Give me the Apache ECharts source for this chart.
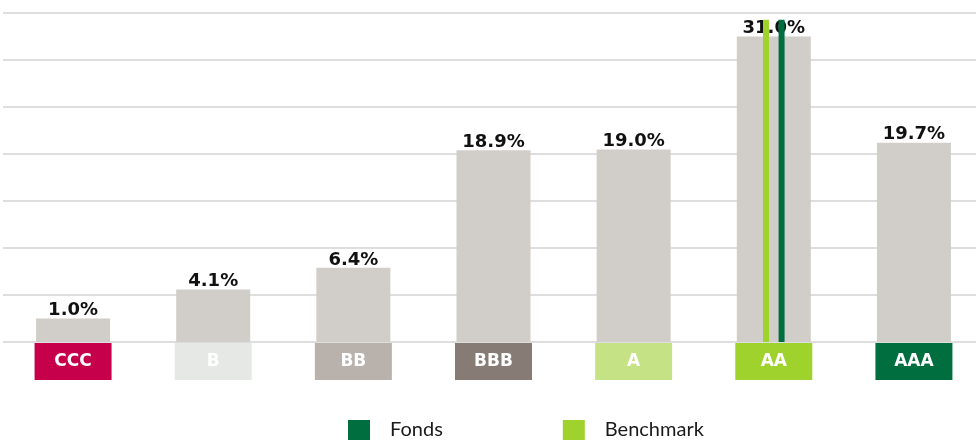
<!DOCTYPE html>
<html>
<head>
<meta charset="utf-8">
<script src="https://cdn.jsdelivr.net/npm/echarts@6/dist/echarts.min.js"></script>
<style>
html,body{margin:0;padding:0;background:#fff;overflow:hidden;width:976px;height:441px;}
#chart{width:984px;height:441px;}
</style>
</head>
<body>
<div id="chart"></div>
<script>
// ---- data ----
const categories = ['CCC', 'B', 'BB', 'BBB', 'A', 'AA', 'AAA'];
const shares = [1.0, 4.1, 6.4, 18.9, 19.0, 31.0, 19.7];
const fonds = [null, null, null, null, null, 32.8, null];
const benchmark = [null, null, null, null, null, 32.8, null];
const axisBottom = -1.4894;   // value at the bottom gridline
const axisTop = 33.5106;      // value at the top gridline
const tickStep = 5;

// ---- styles ----
const catColors = ['#C6004B', '#E6E8E5', '#B8B1AC', '#867C75', '#C5E384', '#A0D22E', '#006E3F'];
const LABEL_FONT = 'DejaVu Sans';
const LEGEND_FONT = 'Lato';
const BAR_GREY = '#D1CEC9';
const base = -axisBottom;
const baseArr = categories.map(() => base);
const baseArrSparse = (arr) => arr.map(v => (v == null ? null : base));

const rich = {};
catColors.forEach((c, i) => {
  rich['c' + i] = {
    width: 77, height: 37, lineHeight: 37, align: 'center',
    backgroundColor: c, color: '#fff', fontWeight: 'bold',
    fontSize: 17, fontFamily: LABEL_FONT
  };
});

const chart = echarts.init(document.getElementById('chart'), null, {renderer: 'canvas'});
chart.setOption({
  animation: false,
  grid: {left: 3, top: 13, right: 0, height: 329, containLabel: false},
  legend: {
    data: ['Fonds', 'Benchmark'],
    left: 348, top: 420, padding: 0,
    icon: 'rect', itemWidth: 22, itemHeight: 20, itemGap: 120,
    textStyle: {fontSize: 20, color: '#1a1a1a', fontFamily: LEGEND_FONT, padding: [0, 0, 0, 15]}
  },
  xAxis: [
    {
      type: 'category', data: categories,
      axisLine: {show: false}, axisTick: {show: false},
      axisLabel: {
        interval: 0, margin: 1,
        formatter: (v, i) => '{c' + i + '|' + v + '}',
        rich: rich
      }
    },
    {type: 'category', data: categories, show: false}
  ],
  yAxis: {
    type: 'value', min: 0, max: axisTop - axisBottom, interval: tickStep,
    axisLabel: {show: false}, axisLine: {show: false}, axisTick: {show: false},
    splitLine: {lineStyle: {color: '#DEDEDE', width: 2}}
  },
  series: [
    {name: 'base', type: 'bar', xAxisIndex: 0, stack: 'main', data: baseArr, barWidth: 74,
     itemStyle: {color: BAR_GREY}, silent: true},
    {name: 'Anteil', type: 'bar', xAxisIndex: 0, stack: 'main', data: shares, barWidth: 74,
     itemStyle: {color: BAR_GREY},
     label: {show: true, position: 'top', distance: -1,
       formatter: p => p.value.toFixed(1) + '%',
       color: '#111', fontWeight: 'bold', fontSize: 18, fontFamily: LABEL_FONT}},
    {name: 'baseB', type: 'bar', xAxisIndex: 1, stack: 'b', data: baseArrSparse(benchmark),
     barWidth: 6, barGap: '160%', itemStyle: {color: '#A0D22E'}, zlevel: 1},
    {name: 'Benchmark', type: 'bar', xAxisIndex: 1, stack: 'b', data: benchmark,
     barWidth: 6, barGap: '160%', itemStyle: {color: '#A0D22E'}, zlevel: 1},
    {name: 'baseF', type: 'bar', xAxisIndex: 1, stack: 'f', data: baseArrSparse(fonds),
     barWidth: 6, barGap: '160%', itemStyle: {color: '#006E3F'}, zlevel: 1},
    {name: 'Fonds', type: 'bar', xAxisIndex: 1, stack: 'f', data: fonds,
     barWidth: 6, barGap: '160%', itemStyle: {color: '#006E3F'}, zlevel: 1}
  ]
});
</script>
</body>
</html>
